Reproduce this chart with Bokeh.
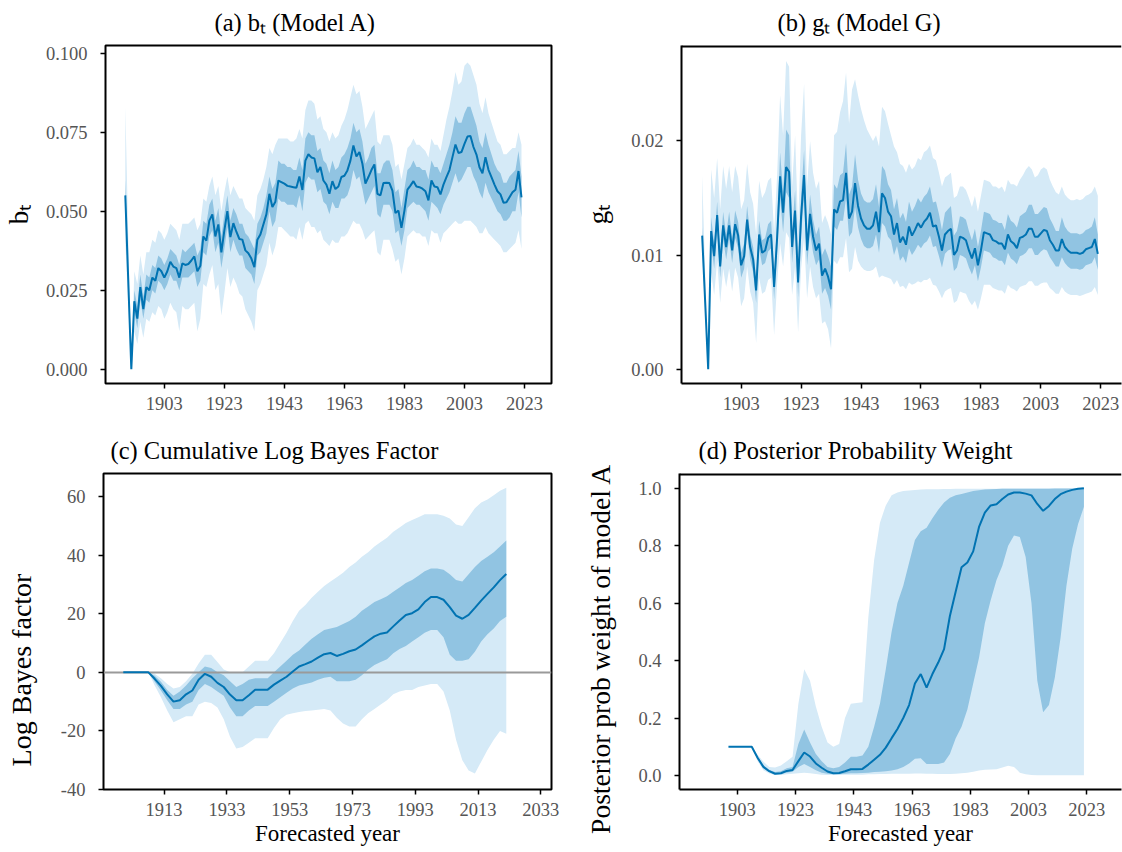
from bokeh.plotting import figure
from bokeh.layouts import column, row
from bokeh.models import Range1d, FixedTicker, NumeralTickFormatter
from bokeh.embed import file_html
from bokeh.resources import INLINE

# ---------------- data ----------------
# panels (a) and (b): yearly estimates
ab_years = [1890] + list(range(1892, 2023))

a_med = [0.0550, 0.0000, 0.0215, 0.0160, 0.0260, 0.0190, 0.0260, 0.0250, 0.0290, 0.0280,
         0.0320, 0.0310, 0.0290, 0.0310, 0.0340, 0.0325, 0.0320, 0.0290, 0.0335, 0.0330,
         0.0333, 0.0344, 0.0357, 0.0310, 0.0327, 0.0420, 0.0407, 0.0470, 0.0490, 0.0420,
         0.0458, 0.0370, 0.0439, 0.0500, 0.0418, 0.0462, 0.0435, 0.0412, 0.0410, 0.0376,
         0.0367, 0.0350, 0.0323, 0.0410, 0.0426, 0.0458, 0.0490, 0.0555, 0.0513, 0.0530,
         0.0597, 0.0592, 0.0587, 0.0580, 0.0578, 0.0576, 0.0574, 0.0610, 0.0567, 0.0660,
         0.0680, 0.0670, 0.0667, 0.0623, 0.0640, 0.0597, 0.0584, 0.0555, 0.0595, 0.0570,
         0.0578, 0.0608, 0.0612, 0.0629, 0.0660, 0.0708, 0.0673, 0.0687, 0.0650, 0.0587,
         0.0608, 0.0630, 0.0648, 0.0555, 0.0550, 0.0589, 0.0590, 0.0589, 0.0565, 0.0494,
         0.0502, 0.0447, 0.0502, 0.0568, 0.0581, 0.0595, 0.0578, 0.0576, 0.0571, 0.0563,
         0.0534, 0.0597, 0.0578, 0.0576, 0.0553, 0.0584, 0.0608, 0.0630, 0.0671, 0.0711,
         0.0684, 0.0687, 0.0713, 0.0736, 0.0738, 0.0703, 0.0679, 0.0639, 0.0620, 0.0671,
         0.0631, 0.0608, 0.0584, 0.0563, 0.0553, 0.0527, 0.0528, 0.0544, 0.0560, 0.0568,
         0.0627, 0.0544]
a_dark_lo = [.050, 0, .018, .013, .022, .016, .022, .021, .025, .024,
             .028, .027, .025, .027, .030, .028, .028, .025, .029, .029,
             .029, .030, .031, .026, .028, .037, .036, .042, .044, .037,
             .040, .032, .038, .045, .037, .041, .038, .036, .036, .032,
             .031, .030, .027, .036, .037, .040, .043, .050, .045, .047,
             .054, .053, .053, .052, .052, .052, .051, .055, .050, .059,
             .061, .060, .060, .056, .057, .053, .052, .049, .053, .051,
             .051, .054, .054, .055, .058, .063, .060, .061, .057, .052,
             .054, .056, .058, .049, .048, .052, .052, .052, .050, .043,
             .044, .039, .044, .051, .052, .053, .052, .052, .051, .050,
             .047, .053, .052, .051, .049, .052, .054, .056, .059, .062,
             .059, .060, .062, .064, .064, .061, .059, .056, .054, .059,
             .056, .054, .052, .050, .049, .047, .047, .048, .050, .050,
             .056, .048]
a_dark_hi = [.060, 0, .025, .020, .030, .023, .030, .029, .033, .032,
             .036, .035, .033, .035, .038, .037, .036, .033, .038, .037,
             .038, .039, .040, .036, .038, .047, .046, .052, .054, .047,
             .051, .042, .049, .055, .047, .051, .049, .046, .046, .043,
             .042, .040, .038, .046, .048, .051, .055, .061, .057, .059,
             .066, .065, .065, .064, .064, .063, .063, .067, .063, .073,
             .075, .074, .074, .069, .070, .066, .065, .062, .066, .063,
             .064, .067, .068, .070, .073, .078, .075, .076, .072, .065,
             .067, .070, .071, .062, .062, .065, .066, .066, .063, .056,
             .057, .051, .057, .063, .064, .066, .064, .064, .063, .063,
             .060, .066, .064, .064, .062, .065, .068, .071, .075, .080,
             .078, .078, .081, .083, .083, .080, .077, .072, .070, .075,
             .071, .068, .065, .063, .062, .059, .059, .061, .062, .063,
             .069, .061]
a_light_lo = [.040, 0, .012, .008, .015, .010, .016, .015, .018, .017,
              .020, .019, .016, .018, .021, .019, .018, .012, .020, .019,
              .019, .020, .021, .012, .016, .027, .026, .030, .033, .025,
              .027, .017, .024, .032, .026, .029, .027, .024, .023, .019,
              .017, .015, .012, .025, .027, .030, .033, .040, .036, .039,
              .045, .045, .044, .043, .042, .042, .041, .045, .041, .046,
              .047, .045, .045, .043, .044, .041, .040, .039, .041, .040,
              .040, .042, .042, .043, .045, .047, .046, .046, .044, .041,
              .042, .043, .044, .037, .036, .041, .041, .041, .038, .034,
              .035, .030, .035, .042, .043, .044, .043, .043, .042, .042,
              .039, .044, .043, .043, .040, .043, .044, .045, .046, .047,
              .046, .046, .047, .047, .047, .046, .045, .043, .043, .045,
              .043, .042, .041, .040, .039, .037, .037, .038, .039, .040,
              .044, .038]
a_light_hi = [.083, 0, .031, .027, .036, .030, .037, .037, .041, .040,
              .044, .043, .041, .043, .046, .045, .044, .041, .046, .046,
              .046, .047, .048, .044, .046, .054, .053, .058, .061, .055,
              .058, .050, .056, .061, .055, .058, .056, .054, .054, .051,
              .050, .049, .047, .055, .057, .060, .064, .070, .068, .071,
              .073, .073, .073, .073, .072, .072, .073, .076, .073, .082,
              .085, .085, .084, .079, .080, .076, .075, .072, .075, .073,
              .074, .077, .079, .082, .086, .090, .087, .088, .083, .076,
              .078, .080, .082, .072, .071, .074, .074, .074, .071, .064,
              .065, .060, .065, .070, .071, .073, .071, .071, .070, .069,
              .067, .073, .071, .071, .069, .074, .079, .083, .088, .094,
              .090, .091, .096, .097, .096, .093, .090, .084, .081, .086,
              .081, .078, .075, .072, .071, .068, .068, .069, .070, .070,
              .075, .071]

b_med = [.0117, 0, .0121, .0099, .0135, .0090, .0126, .0107, .0126, .0104,
         .0127, .0117, .0091, .0099, .0131, .0107, .0096, .0069, .0118, .0102,
         .0104, .0115, .0118, .0072, .0115, .0169, .0137, .0177, .0173, .0107,
         .0139, .0076, .0134, .0170, .0104, .0136, .0116, .0104, .0110, .0082,
         .0088, .0081, .0070, .0140, .0137, .0147, .0148, .0172, .0132, .0138,
         .0163, .0143, .0132, .0126, .0123, .0123, .0126, .0138, .0120, .0154,
         .0150, .0138, .0134, .0118, .0128, .0111, .0116, .0109, .0125, .0117,
         .0122, .0128, .0124, .0129, .0132, .0137, .0125, .0126, .0116, .0104,
         .0118, .0121, .0123, .0100, .0104, .0116, .0115, .0113, .0104, .0097,
         .0106, .0091, .0104, .0120, .0119, .0118, .0113, .0112, .0110, .0110,
         .0105, .0118, .0112, .0110, .0106, .0115, .0116, .0118, .0123, .0123,
         .0116, .0116, .0119, .0122, .0121, .0113, .0109, .0104, .0104, .0114,
         .0107, .0104, .0102, .0102, .0102, .0101, .0102, .0105, .0106, .0107,
         .0114, .0101]
b_dark_lo = [.0110, 0, .0110, .0088, .0123, .0080, .0114, .0096, .0114, .0093,
             .0115, .0106, .0080, .0088, .0119, .0096, .0085, .0058, .0106, .0091,
             .0093, .0103, .0106, .0061, .0103, .0150, .0120, .0155, .0150, .0093,
             .0122, .0063, .0118, .0150, .0091, .0120, .0102, .0091, .0096, .0066,
             .0071, .0064, .0052, .0125, .0122, .0130, .0130, .0150, .0116, .0120,
             .0142, .0124, .0114, .0108, .0106, .0106, .0108, .0118, .0102, .0128,
             .0125, .0116, .0113, .0100, .0108, .0095, .0099, .0093, .0106, .0100,
             .0104, .0109, .0106, .0110, .0112, .0117, .0107, .0108, .0099, .0089,
             .0101, .0104, .0105, .0086, .0089, .0100, .0099, .0097, .0089, .0083,
             .0091, .0077, .0089, .0104, .0103, .0102, .0098, .0097, .0095, .0095,
             .0091, .0102, .0097, .0095, .0092, .0099, .0100, .0102, .0106, .0106,
             .0100, .0100, .0103, .0105, .0104, .0098, .0094, .0090, .0090, .0098,
             .0093, .0090, .0088, .0088, .0088, .0087, .0088, .0091, .0092, .0093,
             .0098, .0087]
b_dark_hi = [.0124, 0, .0133, .0110, .0147, .0101, .0138, .0118, .0138, .0115,
             .0139, .0129, .0102, .0110, .0143, .0118, .0107, .0080, .0130, .0113,
             .0115, .0127, .0130, .0083, .0127, .0190, .0155, .0210, .0205, .0122,
             .0157, .0090, .0152, .0192, .0118, .0153, .0131, .0118, .0125, .0100,
             .0106, .0099, .0090, .0162, .0158, .0170, .0172, .0198, .0153, .0160,
             .0188, .0166, .0154, .0148, .0146, .0146, .0149, .0162, .0142, .0178,
             .0174, .0162, .0157, .0140, .0150, .0132, .0137, .0129, .0147, .0138,
             .0143, .0150, .0146, .0151, .0154, .0160, .0146, .0147, .0136, .0122,
             .0137, .0140, .0143, .0117, .0121, .0134, .0133, .0131, .0121, .0113,
             .0123, .0107, .0121, .0138, .0137, .0136, .0131, .0130, .0128, .0128,
             .0122, .0136, .0130, .0128, .0124, .0134, .0136, .0138, .0144, .0144,
             .0136, .0136, .0139, .0142, .0141, .0132, .0127, .0121, .0121, .0133,
             .0125, .0121, .0119, .0119, .0119, .0118, .0119, .0122, .0123, .0125,
             .0133, .0118]
b_light_lo = [.0100, 0, .0085, .0065, .0095, .0058, .0088, .0072, .0088, .0068,
              .0089, .0080, .0055, .0062, .0090, .0068, .0058, .0023, .0080, .0066,
              .0068, .0078, .0080, .0030, .0075, .0110, .0090, .0120, .0115, .0065,
              .0090, .0032, .0088, .0115, .0062, .0090, .0072, .0062, .0066, .0040,
              .0042, .0035, .0018, .0095, .0092, .0098, .0098, .0115, .0085, .0088,
              .0107, .0095, .0090, .0087, .0086, .0086, .0087, .0090, .0080, .0082,
              .0081, .0080, .0079, .0074, .0078, .0072, .0073, .0070, .0076, .0074,
              .0075, .0077, .0076, .0078, .0078, .0080, .0074, .0073, .0068, .0062,
              .0068, .0070, .0071, .0058, .0060, .0068, .0067, .0066, .0060, .0056,
              .0060, .0052, .0062, .0074, .0074, .0074, .0071, .0070, .0069, .0069,
              .0066, .0074, .0071, .0070, .0068, .0072, .0073, .0074, .0077, .0077,
              .0073, .0073, .0075, .0076, .0076, .0071, .0069, .0066, .0066, .0072,
              .0068, .0066, .0065, .0065, .0065, .0064, .0065, .0066, .0067, .0068,
              .0072, .0065]
b_light_hi = [.0170, 0, .0175, .0150, .0185, .0140, .0178, .0158, .0178, .0155,
              .0178, .0168, .0140, .0148, .0180, .0155, .0145, .0118, .0165, .0150,
              .0155, .0165, .0168, .0120, .0170, .0240, .0205, .0270, .0265, .0160,
              .0205, .0125, .0205, .0250, .0160, .0200, .0172, .0158, .0165, .0128,
              .0135, .0128, .0118, .0205, .0208, .0225, .0235, .0260, .0215, .0245,
              .0254, .0240, .0228, .0218, .0210, .0205, .0200, .0205, .0195, .0230,
              .0226, .0215, .0205, .0195, .0190, .0180, .0178, .0172, .0180, .0175,
              .0178, .0185, .0183, .0190, .0192, .0196, .0185, .0183, .0172, .0160,
              .0168, .0170, .0172, .0150, .0152, .0160, .0160, .0157, .0150, .0142,
              .0152, .0138, .0152, .0166, .0165, .0164, .0160, .0160, .0158, .0160,
              .0155, .0166, .0162, .0162, .0160, .0166, .0170, .0175, .0178, .0175,
              .0168, .0170, .0175, .0177, .0175, .0166, .0160, .0155, .0153, .0160,
              .0153, .0150, .0148, .0148, .0149, .0148, .0149, .0152, .0153, .0155,
              .0160, .0152]

# panels (c) and (d): every second forecasted year
cd_years = list(range(1900, 2023, 2))

c_med = [0, 0, 0, 0, 0, -2.2, -4.6, -7.5, -10.0, -9.5,
         -7.5, -6.2, -2.5, -0.5, -1.5, -3.6, -5.0, -7.6, -9.5, -9.5,
         -7.8, -5.9, -5.9, -5.9, -4.2, -2.8, -1.5, 0.3, 2.0, 2.8,
         3.7, 5.0, 6.2, 6.6, 5.6, 6.3, 7.2, 7.8, 9.2, 10.8,
         12.3, 13.2, 13.6, 15.7, 17.7, 19.6, 20.2, 21.5, 24.0, 25.7,
         25.7, 24.8, 22.3, 19.4, 18.3, 19.6, 22.0, 24.5, 26.8, 29.0,
         31.5, 33.6]
c_dark_lo = [0, 0, 0, 0, 0, -3.2, -6.2, -9.5, -12.5, -12.5,
             -11, -10, -6, -4, -5, -6.5, -8, -12, -15, -15,
             -13, -11.5, -11.5, -11.5, -10, -8.5, -7, -5.5, -4.5, -4,
             -3.5, -2.5, -1.8, -1.5, -3, -3, -3, -2.5, -1, 1,
             2.5, 3.5, 4.5, 6.5, 8, 9, 10.5, 12, 13.5, 14.5,
             14.5, 12, 6, 4, 4, 4.5, 7, 10.5, 13, 15,
             17.5, 19]
c_dark_hi = [0, 0, 0, 0, 0, -1.2, -3.2, -6, -8, -6.5,
             -4.5, -2, 0, 2, 1.5, 0, -1, -3, -5, -4,
             -2.5, -2, -2, -2, 0, 2, 4, 6, 7.5, 9.5,
             11.5, 13, 14.5, 15, 15.5, 16.5, 17.5, 19, 21, 22.5,
             24, 25, 26, 27.5, 29, 30.5, 31.5, 33, 34.5, 35.5,
             35.5, 35, 33.5, 31.5, 31, 33.5, 36, 38, 39.5, 41,
             43, 45]
c_light_lo = [0, 0, 0, 0, 0, -4.5, -8.5, -13, -17, -16,
              -15, -15, -11, -10, -10.5, -12, -16, -22, -26, -25.5,
              -24, -22.5, -22.5, -22.5, -19, -16, -14.5, -14, -13.5, -13.2,
              -13, -12.8, -12.5, -13, -15.5, -17.5, -18.5, -18.5, -16, -14,
              -12.5, -11, -9.5, -7.5, -6.5, -6, -6, -5, -4.5, -4,
              -4, -6.5, -13, -23, -30, -33.5, -34.5, -30.5, -26.5, -23,
              -20, -21]
c_light_hi = [0, 0, 0, 0, 0, -0.5, -2, -4, -5.5, -5,
              -3, -0.5, 3, 6, 6, 3.5, 1, 0, 0, 0,
              2, 4, 4, 4, 6.5, 10, 13.5, 17.5, 21, 23,
              25.5, 27.5, 29.5, 31, 32.5, 34, 36, 37.5, 39.5, 41,
              43, 44.5, 46, 48, 49.5, 51, 52, 53, 54, 54,
              54, 53.5, 52.5, 50.5, 50, 53, 56, 58, 59, 60.5,
              62, 63]

d_med = [.10, .10, .10, .10, .10, .062, .030, .015, .006, .008,
         .016, .019, .050, .080, .066, .042, .027, .014, .008, .009,
         .015, .022, .022, .023, .038, .055, .072, .097, .130, .162,
         .200, .245, .320, .353, .306, .353, .393, .440, .555, .640,
         .725, .741, .780, .865, .915, .940, .944, .962, .978, .985,
         .985, .981, .975, .945, .921, .938, .962, .979, .988, .994,
         .998, 1.000]
d_dark_lo = [.10, .10, .10, .10, .10, .055, .025, .011, .004, .005,
             .010, .013, .030, .040, .030, .018, .010, .006, .004, .004,
             .006, .008, .008, .009, .010, .012, .013, .015, .017, .022,
             .030, .042, .058, .060, .040, .040, .040, .045, .075, .130,
             .170, .230, .320, .410, .530, .610, .680, .730, .800, .835,
             .830, .760, .600, .330, .220, .245, .340, .480, .660, .790,
             .875, .935]
d_dark_hi = [.10, .10, .10, .10, .10, .066, .036, .020, .012, .015,
             .025, .030, .110, .160, .115, .075, .050, .030, .025, .030,
             .045, .065, .065, .070, .100, .170, .250, .370, .500, .600,
             .660, .740, .820, .850, .862, .895, .925, .950, .967, .975,
             .980, .985, .990, .993, .995, .996, .997, .998, .998, .998,
             .998, .998, .998, .998, .998, .998, .999, .999, .999, .999,
             .999, 1.0]
d_light_lo = [.10, .10, .10, .10, .10, .050, .018, .007, .002, .002,
              .004, .006, .008, .010, .008, .005, .003, .002, .002, .002,
              .003, .003, .003, .003, .004, .004, .005, .005, .006, .006,
              .006, .006, .007, .007, .006, .006, .005, .005, .005, .006,
              .008, .010, .013, .017, .020, .021, .022, .028, .034, .030,
              .010, .004, .002, .001, .001, .001, .001, .001, .001, .001,
              .001, .001]
d_light_hi = [.10, .10, .10, .10, .10, .072, .048, .030, .028, .035,
              .050, .065, .250, .370, .330, .240, .170, .115, .100, .110,
              .200, .250, .252, .255, .550, .750, .880, .940, .975, .985,
              .990, .992, .994, .995, .996, .996, .996, .997, .997, .998,
              .998, .998, .998, .998, .998, .998, .998, .999, .999, .999,
              .999, .999, .999, .999, .999, .999, .999, .999, .999, .999,
              .999, 1.0]

ticks_x_ab = [1903, 1923, 1943, 1963, 1983, 2003, 2023]
ticks_x_c = [1913, 1933, 1953, 1973, 1993, 2013, 2033]
ticks_y_a = [0.0, 0.025, 0.05, 0.075, 0.1]
ticks_y_b = [0.0, 0.01, 0.02]
ticks_y_c = [-40, -20, 0, 20, 40, 60]
ticks_y_d = [0.0, 0.2, 0.4, 0.6, 0.8, 1.0]

titles = ["(a) b\u209c (Model A)", "(b) g\u209c (Model G)",
          "(c) Cumulative Log Bayes Factor", "(d) Posterior Probability Weight"]
NB = "\u00a0"

# ---------------- style ----------------
LINE = "#0173b2"
DARK = "#91c4e2"
LIGHT = "#d5eaf7"
SERIF = "Liberation Serif"


def make(width, height, xr, yr, borders, title, title_offset, title_standoff, open_right=False):
    l, r, t, b = borders
    p = figure(width=width, height=height, x_range=Range1d(*xr), y_range=Range1d(*yr),
               output_backend="svg", toolbar_location=None,
               min_border_left=l, min_border_right=r, min_border_top=t, min_border_bottom=b)
    p.xgrid.visible = False
    p.ygrid.visible = False
    p.background_fill_color = "white"
    p.border_fill_color = "white"
    p.title.text = title
    p.title.align = "left"
    p.title.vertical_align = "top"
    p.title.offset = title_offset
    p.title.standoff = title_standoff
    p.title.text_font = SERIF
    p.title.text_font_size = "24.5px"
    p.title.text_font_style = "normal"
    p.title.text_color = "black"
    for ax in (p.xaxis[0], p.yaxis[0]):
        ax.axis_line_color = None
        ax.major_tick_in = 0
        ax.major_tick_out = 5
        ax.major_tick_line_width = 1.5
        ax.major_tick_line_color = "black"
        ax.minor_tick_line_color = None
        ax.major_label_text_font = SERIF
        ax.major_label_text_font_size = "18.5px"
        ax.major_label_text_color = "#555555"
        ax.major_label_standoff = 13
        ax.axis_label_text_font = SERIF
        ax.axis_label_text_font_style = "normal"
        ax.axis_label_text_color = "black"
    p.xaxis[0].major_label_standoff = 8
    if open_right:
        # this frame runs on past the right edge of the picture: no right side drawn
        p.outline_line_color = None
        for ax in (p.xaxis[0], p.yaxis[0]):
            ax.axis_line_color = "black"
            ax.axis_line_width = 2
    else:
        p.outline_line_color = "black"
        p.outline_line_width = 2
        p.outline_line_alpha = 1
    return p


def bands(p, x, llo, lhi, dlo, dhi, med, zero_line=False):
    p.varea(x=x, y1=llo, y2=lhi, fill_color=LIGHT)
    p.varea(x=x, y1=dlo, y2=dhi, fill_color=DARK)
    if zero_line:
        p.hspan(y=[0], line_color="#9a9a9a", line_width=2)
    p.line(x=x, y=med, line_color=LINE, line_width=2)


def top_edge(p):
    # top side of an open frame, at the upper end of the y range
    p.hspan(y=[p.y_range.end], line_color="black", line_width=4)


# (a)  frame 103..551 x 45..383
yr_a = (-0.0045, 0.1024)
pa = make(580, 425, (1883.4, 2032.0), yr_a, (103, 29, 45, 42), titles[0], 109, 15)
bands(pa, ab_years, a_light_lo, a_light_hi, a_dark_lo, a_dark_hi, a_med)
pa.xaxis.ticker = FixedTicker(ticks=ticks_x_ab)
pa.yaxis.ticker = FixedTicker(ticks=ticks_y_a)
pa.yaxis.formatter = NumeralTickFormatter(format="0.000")
pa.yaxis.axis_label = "b\u209c"
pa.yaxis.axis_label_text_font_size = "27px"
pa.yaxis.axis_label_standoff = 9

# (b)  frame 678..(past edge) x 45..383
yr_b = (-0.00126, 0.02836)
pb = make(542, 425, (1883.1, 2029.9), yr_b, (98, 1, 45, 42), titles[1], 96, 15,
          open_right=True)
bands(pb, ab_years, b_light_lo, b_light_hi, b_dark_lo, b_dark_hi, b_med)
top_edge(pb)
pb.xaxis.ticker = FixedTicker(ticks=ticks_x_ab)
pb.yaxis.ticker = FixedTicker(ticks=ticks_y_b)
pb.yaxis.formatter = NumeralTickFormatter(format="0.00")
pb.yaxis.axis_label = "g\u209c"
pb.yaxis.axis_label_text_font_size = "27px"
pb.yaxis.axis_label_standoff = 15

# (c)  frame 103..551 x 473..789
yr_c = (-40.0, 67.9)
pc = make(580, 427, (1893.7, 2036.4), yr_c, (103, 29, 48, 63), titles[2], 7, 16)
bands(pc, cd_years, c_light_lo, c_light_hi, c_dark_lo, c_dark_hi, c_med, zero_line=True)
pc.xaxis.ticker = FixedTicker(ticks=ticks_x_c)
pc.yaxis.ticker = FixedTicker(ticks=ticks_y_c)
pc.yaxis.formatter = NumeralTickFormatter(format="0")
pc.yaxis.axis_label = "Log Bayes factor" + NB * 11
pc.yaxis.axis_label_text_font_size = "28px"
pc.yaxis.axis_label_standoff = 21
pc.xaxis.axis_label = "Forecasted year"
pc.xaxis.axis_label_text_font_size = "23px"
pc.xaxis.axis_label_standoff = 2

# (d)  frame 679..(past edge) x 473..789
yr_d = (-0.0487, 1.051)
pd_ = make(542, 427, (1883.2, 2034.9), yr_d, (99, 1, 48, 63), titles[3], 19, 16,
           open_right=True)
bands(pd_, cd_years, d_light_lo, d_light_hi, d_dark_lo, d_dark_hi, d_med)
top_edge(pd_)
pd_.xaxis.ticker = FixedTicker(ticks=ticks_x_ab)
pd_.yaxis.ticker = FixedTicker(ticks=ticks_y_d)
pd_.yaxis.formatter = NumeralTickFormatter(format="0.0")
pd_.yaxis.axis_label = "Posterior prob weight of model A" + NB * 5
pd_.yaxis.axis_label_text_font_size = "27.5px"
pd_.yaxis.axis_label_standoff = 19
pd_.xaxis.axis_label = "Forecasted year"
pd_.xaxis.axis_label_text_font_size = "23px"
pd_.xaxis.axis_label_standoff = 2

layout = column(row(pa, pb), row(pc, pd_))
open("out.html", "w").write(file_html(layout, INLINE))
